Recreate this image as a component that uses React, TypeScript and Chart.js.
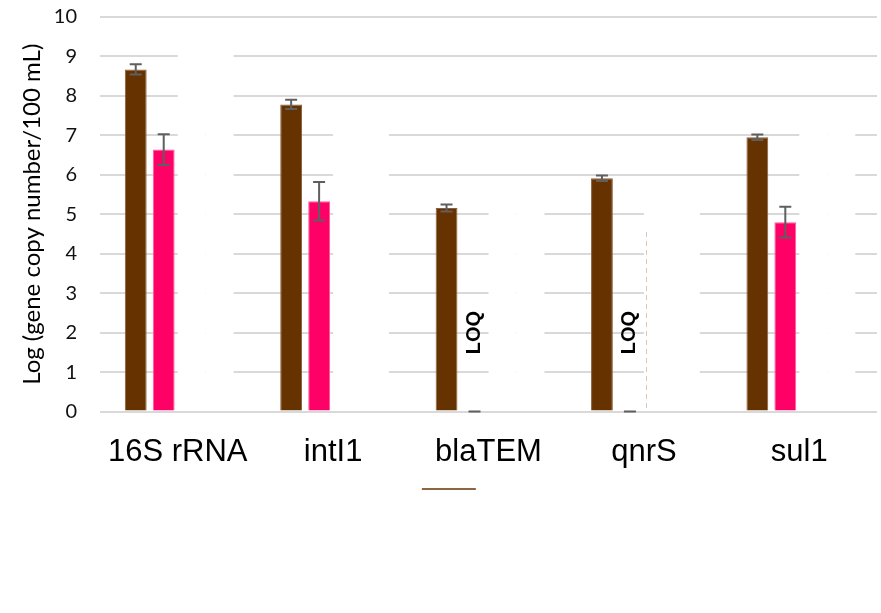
import React, { useEffect, useRef } from "react";
import { Chart, registerables } from "chart.js";

Chart.register(...registerables);

// Target genes on the category axis
const genes = ["16S rRNA", "intI1", "blaTEM", "qnrS", "sul1"];

// Log gene copies per 100 mL, with their error half-ranges
const seriesA = [8.67, 7.785, 5.16, 5.91, 6.95];
const seriesAErr = [0.13, 0.12, 0.09, 0.07, 0.07];
const seriesB = [6.64, 5.33, 0, 0, 4.8];
const seriesBErr = [0.39, 0.49, 0, 0, 0.39];

// Genes below the limit of quantification in series B
const belowLoq = [false, false, true, true, false];
// Dashed box edge next to the qnrS LOQ label (top value, or null for none)
const loqBoxTop = [null, null, null, 4.55, null];

// White panels behind the empty slots of each group
const panelTop = [9.5, 7.5, 5.5, 5.5, 7.5];

const yTicks = [0, 10];

const BROWN = "#663300";
const PINK = "#FF0066";

const errorBarPlugin = {
  id: "errorBars",
  afterDatasetsDraw(chart: any) {
    const { ctx } = chart;
    const y = chart.scales.y;
    const sets = [
      { idx: 0, err: seriesAErr, vals: seriesA },
      { idx: 1, err: seriesBErr, vals: seriesB },
    ];
    ctx.save();
    ctx.strokeStyle = "#5f5f5f";
    ctx.lineWidth = 2;
    sets.forEach(({ idx, err, vals }) => {
      const meta = chart.getDatasetMeta(idx);
      meta.data.forEach((bar: any, i: number) => {
        const x = bar.x;
        const hi = y.getPixelForValue(vals[i] + err[i]);
        const lo = y.getPixelForValue(vals[i] - err[i]);
        ctx.beginPath();
        ctx.moveTo(x, hi);
        ctx.lineTo(x, lo);
        ctx.moveTo(x - 6, hi);
        ctx.lineTo(x + 6, hi);
        ctx.moveTo(x - 6, lo);
        ctx.lineTo(x + 6, lo);
        ctx.stroke();
      });
    });
    ctx.restore();
  },
};

const loqPlugin = {
  id: "loqLabels",
  afterDatasetsDraw(chart: any) {
    const { ctx } = chart;
    const y = chart.scales.y;
    const xs = chart.scales.x;
    const meta = chart.getDatasetMeta(1);
    ctx.save();
    belowLoq.forEach((flag, i) => {
      if (!flag) return;
      const bx = meta.data[i].x;
      ctx.save();
      ctx.translate(bx, y.getPixelForValue(2));
      ctx.rotate(-Math.PI / 2);
      ctx.font = "bold 20px 'Liberation Sans', Arial, sans-serif";
      ctx.fillStyle = "#000";
      ctx.textAlign = "center";
      ctx.textBaseline = "middle";
      ctx.fillText("LOQ", 0, 0);
      ctx.restore();
    });
    loqBoxTop.forEach((top, i) => {
      if (top == null) return;
      const x = Math.round(xs.getPixelForValue(i) + 2) + 0.5;
      ctx.strokeStyle = "#dcc8b8";
      ctx.lineWidth = 1;
      ctx.setLineDash([5, 4]);
      ctx.beginPath();
      ctx.moveTo(x, y.getPixelForValue(top));
      ctx.lineTo(x, y.getPixelForValue(0));
      ctx.stroke();
    });
    ctx.restore();
  },
};

const legendLinePlugin = {
  id: "legendLine",
  afterDraw(chart: any) {
    const { ctx, width } = chart;
    const cx = width * 0.5095;
    ctx.save();
    ctx.strokeStyle = BROWN;
    ctx.lineWidth = 1.5;
    ctx.beginPath();
    ctx.moveTo(cx - 27, 489);
    ctx.lineTo(cx + 27, 489);
    ctx.stroke();
    ctx.restore();
  },
};

export default function App() {
  const canvasRef = useRef<HTMLCanvasElement | null>(null);

  useEffect(() => {
    if (!canvasRef.current) return;
    const panels = panelTop.map((t) => [0.06, t]);
    const chart = new Chart(canvasRef.current, {
      type: "bar",
      data: {
        labels: genes,
        datasets: [
          {
            label: "A",
            data: seriesA,
            backgroundColor: BROWN,
            borderColor: "#8c5e3a",
            borderWidth: 1,
            borderSkipped: "bottom",
          },
          {
            label: "B",
            data: seriesB,
            backgroundColor: PINK,
            borderColor: "#ff5c9a",
            borderWidth: 1,
            borderSkipped: "bottom",
          },
          {
            label: "C",
            data: panels as any,
            backgroundColor: "#ffffff",
            barPercentage: 1,
          },
          {
            label: "D",
            data: panels as any,
            backgroundColor: "#ffffff",
            barPercentage: 1,
          },
        ],
      },
      options: {
        responsive: false,
        animation: false,
        events: [],
        layout: { padding: { top: 17, right: 4, left: 0, bottom: 0 } },
        datasets: {
          bar: { categoryPercentage: 0.72, barPercentage: 0.78 },
        },
        plugins: {
          legend: { display: false },
          tooltip: { enabled: false },
        },
        scales: {
          x: {
            grid: { display: false },
            border: { display: false },
            ticks: {
              color: "#000",
              padding: 14,
              font: { family: "'Liberation Sans', Arial, sans-serif", size: 31 },
            },
            afterFit(scale: any) {
              scale.height = 201.5;
            },
          },
          y: {
            min: yTicks[0],
            max: yTicks[1],
            border: { display: false },
            grid: { color: "#d9d9d9", lineWidth: 2, drawTicks: false },
            ticks: {
              stepSize: 1,
              padding: 23,
              color: "#111",
              font: { family: "Lato, 'Noto Sans', sans-serif", size: 20 },
            },
            title: {
              display: true,
              text: "Log (gene copy number/100 mL)",
              color: "#000",
              padding: { top: 18, bottom: 0 },
              font: { family: "Lato, 'Noto Sans', sans-serif", size: 24 },
            },
            afterFit(scale: any) {
              scale.width = 100;
              scale.paddingTop = 0;
              scale.paddingBottom = 0;
            },
          },
        },
      },
      plugins: [errorBarPlugin, loqPlugin, legendLinePlugin],
    });
    return () => chart.destroy();
  }, []);

  return (
    <div style={{ position: "absolute", left: 0, top: 0, width: 881, height: 613, background: "#fff" }}>
      <canvas ref={canvasRef} width={881} height={613} />
    </div>
  );
}
